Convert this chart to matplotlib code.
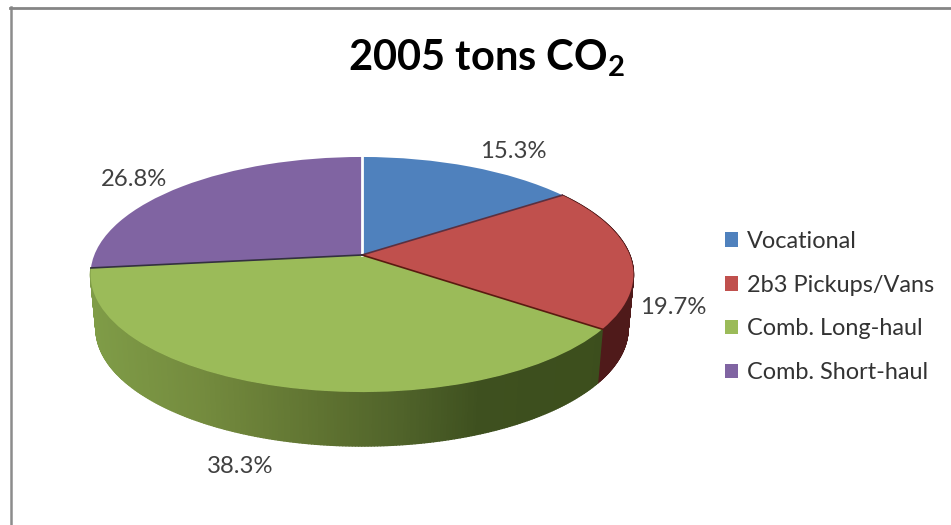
import numpy as np
import matplotlib
matplotlib.use("Agg")
import matplotlib.pyplot as plt
from matplotlib.collections import PolyCollection
from matplotlib.colors import to_rgb
from matplotlib.transforms import Transform

labels = ["Vocational", "2b3 Pickups/Vans", "Comb. Long-haul", "Comb. Short-haul"]
shares = np.array([15.3, 19.7, 38.3, 26.8])
top_colors = ["#4f81bd", "#c0504d", "#9bbb59", "#8064a2"]
seam_colors = ["#ffffff", "#5a3040", "#5a1a10", "#33303f"]

# wall shading, (screen x, colour) stops; blue and purple walls are out of sight
wall_x = [91, 200, 320, 400, 480, 634]
wall_stops = {
    1: ["#4f1a1a"] * 6,
    2: ["#7f9c47", "#748b3e", "#5f7331", "#50632a", "#3e501f", "#3c4e1c"],
}

plt.rcParams["font.family"] = ["Lato", "DejaVu Sans"]
plt.rcParams["mathtext.fontset"] = "custom"
plt.rcParams["mathtext.bf"] = "Lato:bold"


class Tilt(Transform):
    # unit circle to screen pixels, with the perspective of a tilted disc
    input_dims = 2
    output_dims = 2

    def __init__(self, drop=0.0, shrink=1.0):
        super().__init__()
        self.drop = drop
        self.shrink = shrink

    def transform_non_affine(self, xy):
        xy = np.asarray(xy)
        w = 1 + 0.166 * xy[:, 1]
        sx = 362 + self.shrink * 267.7 * xy[:, 0] / w
        sy = 255 - 114.3 * xy[:, 1] / w + self.drop
        return np.column_stack([sx, sy])


fig = plt.figure(figsize=(9.51, 5.25), dpi=100)
ax = fig.add_axes([0, 0, 1, 1])

wedges, _ = ax.pie(shares, startangle=90, counterclock=False, frame=True,
                   colors=top_colors, wedgeprops={"linewidth": 0, "zorder": 3})
tilt = Tilt()
for w in wedges:
    w.set_transform(tilt + ax.transData)

# slice edges in radians, clockwise from the top
edges = np.concatenate([[0], np.cumsum(shares) / shares.sum()]) * 2 * np.pi

# side wall
low = Tilt(drop=54, shrink=0.98)
for i, stops in wall_stops.items():
    t = np.linspace(edges[i], edges[i + 1], 240)
    rim = np.column_stack([np.sin(t), np.cos(t)])
    a = tilt.transform(rim)
    b = low.transform(rim)
    quads = [[a[j], a[j + 1], b[j + 1], b[j]] for j in range(len(t) - 1)]
    rgb = np.array([to_rgb(c) for c in stops])
    mid = (a[:-1, 0] + a[1:, 0]) / 2
    cols = np.column_stack([np.interp(mid, wall_x, rgb[:, k]) for k in range(3)])
    ax.add_collection(PolyCollection(quads, facecolors=cols, edgecolors=cols,
                                     linewidths=1.0, zorder=2))

# seams on the top face
for th, c in zip(edges[:-1], seam_colors):
    lw = 2.0 if c == "#ffffff" else 1.2
    ax.plot([0, np.sin(th)], [0, np.cos(th)], color=c, lw=lw, zorder=4,
            transform=tilt + ax.transData)

ax.set_xlim(0, 951)
ax.set_ylim(525, 0)
ax.axis("off")

# frame of the pasted chart: left and top only
ax.plot([11, 11], [7, 525], color="#8c8c8c", lw=1.8, zorder=1)
ax.plot([10, 951], [7.5, 7.5], color="#858585", lw=2.0, zorder=1)

ax.text(487, 58, r"2005 tons CO$_{\mathbf{2}}$", fontsize=30, fontweight="bold",
        color="black", ha="center", va="center")

label_pos = [(513, 151.5), (673, 307.5), (240, 466.5), (134, 179.5)]
for v, (x, y) in zip(shares, label_pos):
    ax.text(x, y, "%.1f%%" % v, fontsize=17.2, color="#404040",
            ha="center", va="center")

ax.legend(wedges, labels, loc="upper left", bbox_to_anchor=(720 / 951, 1 - 226 / 525),
          frameon=False, fontsize=16.9, labelcolor="#333333", handlelength=0.575,
          handleheight=0.575, handletextpad=0.36, labelspacing=0.975,
          borderaxespad=0, borderpad=0.2)

fig.savefig("out.png", dpi=100)
